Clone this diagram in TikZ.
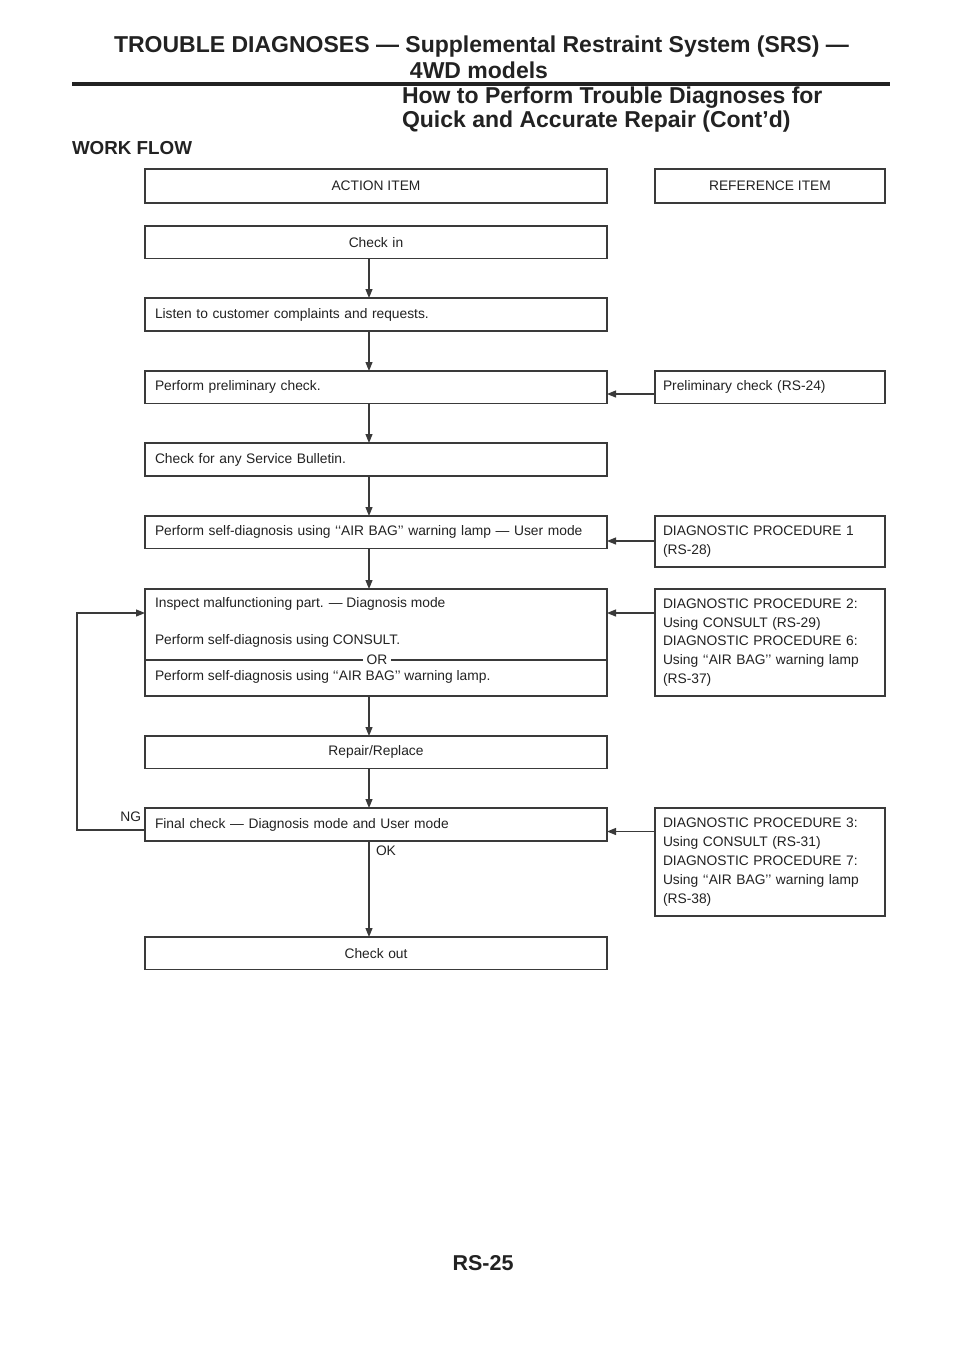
\documentclass[tikz,border=0pt]{standalone}
\usepackage{fontspec}
\setmainfont{Liberation Sans}
\usetikzlibrary{arrows.meta,calc}
\definecolor{ink}{HTML}{222222}
\definecolor{linec}{HTML}{3A3A3A}
\begin{document}
\begin{tikzpicture}[x=1pt,y=-1pt,
  every node/.style={text=ink, inner sep=0pt, outer sep=0pt},
  body/.style={font=\fontsize{13.8}{18.8}\selectfont},
  ttl/.style={font=\fontsize{23}{27}\selectfont\bfseries},
  abox/.style={body, draw=linec, line width=1.1pt, anchor=north west,
    minimum width=462pt, text width=442pt, inner xsep=10pt, align=left},
  cbox/.style={abox, align=center},
  rbox/.style={body, draw=linec, line width=1.1pt, anchor=north west,
    minimum width=230pt, text width=214pt, inner xsep=8pt, align=left},
  hbox/.style={body, draw=linec, line width=2.6pt, anchor=north west, align=center},
  arr/.style={draw=linec, line width=1.1pt, -{Triangle[length=9pt,width=7pt]}},
  lbl/.style={body}
]
\fill[white] (0,0) rectangle (960,1358);
\useasboundingbox (0,0) rectangle (960,1358);

% header
\node[ttl] (t1) at (481.5,47) {TROUBLE DIAGNOSES — Supplemental Restraint System (SRS) —};
\node[ttl] (t2) at (479,70) {4WD models};
\coordinate (rl) at (72,84);
\coordinate (rr) at (890,84);
\draw[line width=4pt, draw=ink] (rl) -- (rr);
\node[ttl, anchor=west] (t3) at (402,98) {How to Perform Trouble Diagnoses for};
\node[ttl, anchor=west] (t4) at (402,122) {Quick and Accurate Repair (Cont’d)};
\node[font=\fontsize{18.8}{22}\selectfont\bfseries, anchor=west] (wf) at (72,148) {WORK FLOW};
\node[font=\fontsize{21.5}{25}\selectfont\bfseries] (pg) at (483,1263) {RS-25};

% column headers
\node[hbox, minimum width=462pt, minimum height=34pt] (act) at (145,169) {ACTION ITEM};
\node[hbox, minimum width=230pt, minimum height=34pt] (refh) at (655,169) {REFERENCE ITEM};

% action boxes
\node[cbox, minimum height=32.5pt] (ci) at (145,226) {Check in};
\node[abox, minimum height=33pt] (li) at (145,298) {Listen to customer complaints and requests.};
\node[abox, minimum height=32.5pt] (pp) at (145,371) {Perform preliminary check.};
\node[abox, minimum height=33pt] (cb) at (145,443) {Check for any Service Bulletin.};
\node[abox, minimum height=32.5pt] (sd) at (145,516) {Perform self-diagnosis using ‘‘AIR BAG’’ warning lamp — User mode};
\node[abox, minimum height=107pt] (insp) at (145,589) {};
\node[lbl, anchor=west] (insp1) at (155,604) {Inspect malfunctioning part. — Diagnosis mode};
\node[lbl, anchor=west] (insp2) at (155,641) {Perform self-diagnosis using CONSULT.};
\node[lbl, anchor=west] (insp3) at (155,677) {Perform self-diagnosis using ‘‘AIR BAG’’ warning lamp.};
\coordinate (dvl) at (145,660);
\coordinate (dvr) at (607,660);
\draw[draw=linec, line width=1.1pt] (dvl) -- (dvr);
\node[lbl, fill=white, inner xsep=4pt, inner ysep=1pt] (orl) at (377,660) {OR};
\node[cbox, minimum height=32.5pt] (rp) at (145,736) {Repair/Replace};
\node[abox, minimum height=33pt] (fc) at (145,808) {Final check — Diagnosis mode and User mode};
\node[cbox, minimum height=32.5pt] (co) at (145,937) {Check out};

% reference boxes
\node[rbox, minimum height=32.5pt] (r1) at (655,371) {Preliminary check (RS-24)};
\node[rbox, minimum height=51pt] (r2) at (655,516) {DIAGNOSTIC PROCEDURE 1\\(RS-28)};
\node[rbox, minimum height=107pt] (r3) at (655,589) {DIAGNOSTIC PROCEDURE 2:\\Using CONSULT (RS-29)\\DIAGNOSTIC PROCEDURE 6:\\Using ‘‘AIR BAG’’ warning lamp\\(RS-37)};
\node[rbox, minimum height=108pt] (r4) at (655,808) {DIAGNOSTIC PROCEDURE 3:\\Using CONSULT (RS-31)\\DIAGNOSTIC PROCEDURE 7:\\Using ‘‘AIR BAG’’ warning lamp\\(RS-38)};

% spine
\coordinate (sp) at (369,0);
\draw[arr] (ci.south -| sp) -- (li.north -| sp);
\draw[arr] (li.south -| sp) -- (pp.north -| sp);
\draw[arr] (pp.south -| sp) -- (cb.north -| sp);
\draw[arr] (cb.south -| sp) -- (sd.north -| sp);
\draw[arr] (sd.south -| sp) -- (insp.north -| sp);
\draw[arr] (insp.south -| sp) -- (rp.north -| sp);
\draw[arr] (rp.south -| sp) -- (fc.north -| sp);
\draw[arr] (fc.south -| sp) -- (co.north -| sp);

% reference arrows
\coordinate (y1) at (0,394);
\coordinate (y2) at (0,541);
\coordinate (y3) at (0,613);
\coordinate (y4) at (0,831.5);
\draw[arr] (r1.west |- y1) -- (pp.east |- y1);
\draw[arr] (r2.west |- y2) -- (sd.east |- y2);
\draw[arr] (r3.west |- y3) -- (insp.east |- y3);
\draw[arr] (r4.west |- y4) -- (fc.east |- y4);

% NG loop
\coordinate (lx) at (77,0);
\coordinate (yng) at (0,830);
\draw[arr] (fc.west |- yng) -| (lx |- y3) -- (insp.west |- y3);
\node[lbl, anchor=east] (ng) at (141,817) {NG};
\node[lbl, anchor=west] (ok) at (376,851) {OK};
\end{tikzpicture}
\end{document}
